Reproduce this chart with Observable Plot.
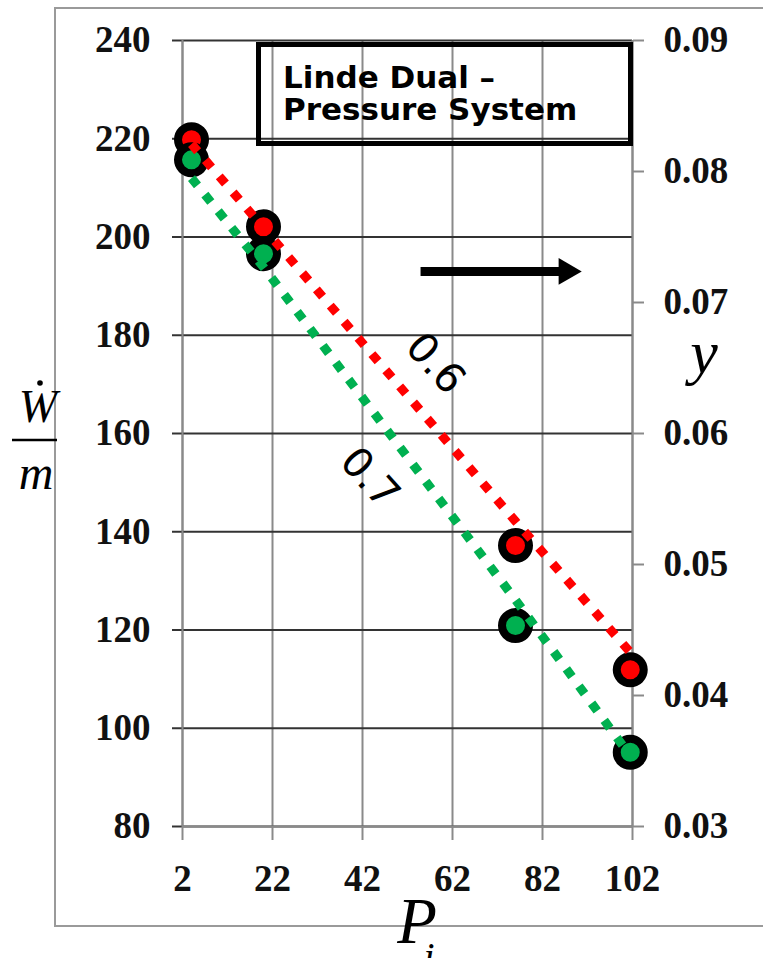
<!DOCTYPE html>
<html><head><meta charset="utf-8">
<script src="https://cdn.jsdelivr.net/npm/d3@7"></script>
<script src="https://cdn.jsdelivr.net/npm/@observablehq/plot@0.6"></script>
<style>
body{margin:0;background:#fff;}
#wrap{position:relative;width:763px;height:958px;overflow:hidden;}
#title{position:absolute;left:256px;top:42px;width:345px;height:80px;border:5px solid #000;font-family:"DejaVu Sans";font-weight:bold;font-size:31px;line-height:32px;padding:14px 0 0 22px;color:#000;z-index:2;}
svg text.tick{letter-spacing:2px;}
</style></head><body><div id="wrap"><div id="title">Linde Dual –<br>Pressure System</div></div>
<script>
// ---- data ----
const P = [4, 20, 76, 101.5];                         // P_i
const W_06 = [219.8, 202.1, 137.2, 111.9];            // W/m, series 0.6 (left axis)
const W_07 = [215.7, 196.6, 120.9, 95.1];             // W/m, series 0.7 (left axis)
const y_06 = [0.0821, 0.0757, 0.0533, 0.0433];        // y, series 0.6 (right axis)
const y_07 = [0.0795, 0.0727, 0.0473, 0.0354];        // y, series 0.7 (right axis)
const seriesNames = ["0.6", "0.7"];
const seriesColors = ["#ff0000", "#00b050"];
const xTicks = [2, 22, 42, 62, 82, 102];
const wTicks = [80, 100, 120, 140, 160, 180, 200, 220, 240];
const yTicks = [0.03, 0.04, 0.05, 0.06, 0.07, 0.08, 0.09];
const labelX = [58.2, 43.6];   // annotation anchors (data units)
const labelY = [174.2, 150.9];
const arrowX = [54.9, 86.5, 87.3];
const arrowY = 193;

// right axis (y) mapped onto the left scale
const wDom = [80, 240], yDom = [0.03, 0.09];
const toLeft = v => wDom[0] + (v - yDom[0]) * (wDom[1] - wDom[0]) / (yDom[1] - yDom[0]);
const fromLeft = v => yDom[0] + (v - wDom[0]) * (yDom[1] - yDom[0]) / (wDom[1] - wDom[0]);

const Wdata = [W_06, W_07].flatMap((arr, s) => arr.map((w, i) => ({P: P[i], W: w, s: seriesNames[s]})));
const Ydata = [y_06, y_07].flatMap((arr, s) => arr.map((y, i) => ({P: P[i], Y: toLeft(y), s: seriesNames[s]})));
const labels = seriesNames.map((n, i) => ({t: n, x: labelX[i], y: labelY[i]}));

const tickFont = {fontSize: 37, fontWeight: "bold", fontFamily: "Liberation Serif", className: "tick"};

const chart = Plot.plot({
  width: 763, height: 958,
  marginLeft: 182, marginRight: 131, marginTop: 40, marginBottom: 132,
  x: {domain: [2, 102]},
  y: {domain: wDom},
  color: {domain: seriesNames, range: seriesColors},
  style: {fontFamily: "DejaVu Sans", background: "transparent", overflow: "visible"},
  marks: [
    Plot.gridX(xTicks, {stroke: "#8a8a8a", strokeOpacity: 1, strokeWidth: 2}),
    Plot.gridY(wTicks, {stroke: "#333", strokeOpacity: 1, strokeWidth: 2}),
    Plot.axisY(wTicks, {anchor: "left", tickSize: 10, tickPadding: 22, tickFormat: d => String(d), stroke: "#333", strokeWidth: 2, fill: "#111", label: null, ...tickFont}),
    Plot.axisY(yTicks.map(toLeft), {anchor: "right", tickSize: 11, tickPadding: 20, tickFormat: v => fromLeft(v).toFixed(2), stroke: "#8a8a8a", strokeWidth: 2, fill: "#111", label: null, ...tickFont}),
    Plot.axisX(xTicks, {anchor: "bottom", tickSize: 14, tickPadding: 24, tickFormat: d => String(d), stroke: "#8a8a8a", strokeWidth: 2, fill: "#111", label: null, ...tickFont}),
    Plot.ruleX([2, 102], {stroke: "#8a8a8a", strokeWidth: 2}),
    Plot.ruleY([80], {stroke: "#8a8a8a", strokeWidth: 2}),
    Plot.dot(Wdata, {x: "P", y: "W", r: 13.5, fill: "s", stroke: "#000", strokeWidth: 8}),
    Plot.line(Ydata, {x: "P", y: "Y", z: "s", stroke: "s", strokeWidth: 9, strokeDasharray: "9.5,11.8", strokeLinecap: "butt"}),
    Plot.text(labels, {x: "x", y: "y", text: "t", rotate: 48, fontSize: 41, fontFamily: "DejaVu Sans", fill: "#000"}),
    Plot.line([{x: arrowX[0], y: arrowY}, {x: arrowX[1], y: arrowY}], {x: "x", y: "y", stroke: "#000", strokeWidth: 9, strokeLinecap: "butt"}),
    Plot.dot([{x: arrowX[2], y: arrowY}], {x: "x", y: "y", symbol: "triangle", r: 9.9, rotate: 90, fill: "#000", stroke: null})
  ]
});

const svg = d3.select(chart);
svg.style("position", "absolute").style("left", "0").style("top", "0");
svg.insert("rect", ":first-child").attr("x", 55).attr("y", 8).attr("width", 730).attr("height", 918)
  .attr("fill", "none").attr("stroke", "#9a9a9a").attr("stroke-width", 2);
// axis titles (root svg uses text-anchor: middle)
const serif = "Liberation Serif";
const title = (x, y, size, t) => svg.append("text").attr("x", x).attr("y", y).attr("text-anchor", "middle")
  .attr("font-family", serif).attr("font-style", "italic").attr("font-size", size).attr("fill", "#000").text(t);
title(38, 422, 46, "W");
svg.append("circle").attr("cx", 40).attr("cy", 383).attr("r", 2.8).attr("fill", "#000");
svg.append("line").attr("x1", 12).attr("x2", 57).attr("y1", 440).attr("y2", 440).attr("stroke", "#000").attr("stroke-width", 2.5);
title(36, 489, 48, "m");
title(704, 373, 62, "y");
title(417, 943, 65, "P");
title(429, 970, 40, "i");

document.getElementById("wrap").prepend(chart);
</script>
</body></html>
